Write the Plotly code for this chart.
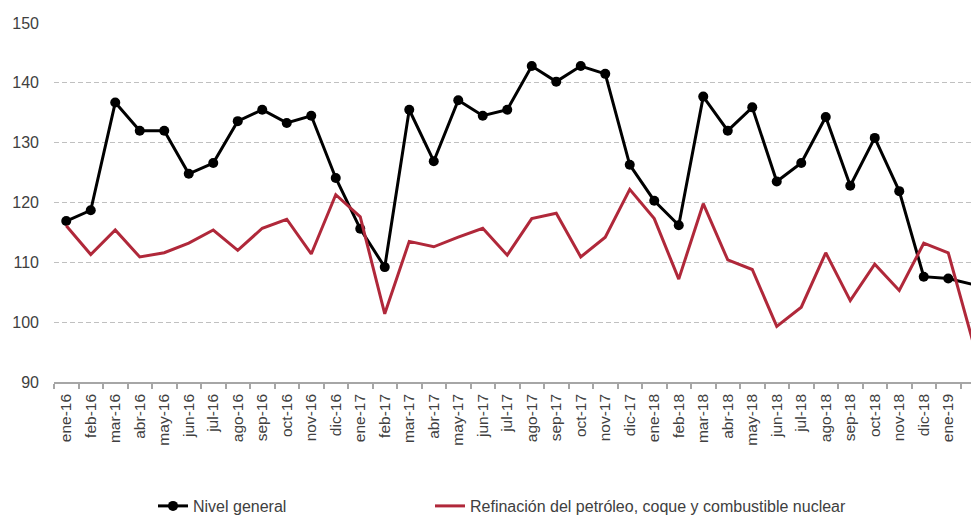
import plotly.graph_objects as go

meses = ["ene-16", "feb-16", "mar-16", "abr-16", "may-16", "jun-16", "jul-16", "ago-16",
         "sep-16", "oct-16", "nov-16", "dic-16", "ene-17", "feb-17", "mar-17", "abr-17",
         "may-17", "jun-17", "jul-17", "ago-17", "sep-17", "oct-17", "nov-17", "dic-17",
         "ene-18", "feb-18", "mar-18", "abr-18", "may-18", "jun-18", "jul-18", "ago-18",
         "sep-18", "oct-18", "nov-18", "dic-18", "ene-19", "feb-19"]

nivel_general = [116.9, 118.7, 136.7, 132.0, 132.0, 124.8, 126.6, 133.6,
                 135.5, 133.3, 134.5, 124.1, 115.6, 109.2, 135.5, 126.9,
                 137.1, 134.5, 135.5, 142.8, 140.2, 142.8, 141.5, 126.3,
                 120.3, 116.2, 137.7, 132.0, 135.9, 123.5, 126.6, 134.3,
                 122.8, 130.8, 121.9, 107.6, 107.3, 106.3]

refinacion = [116.1, 111.3, 115.4, 110.9, 111.6, 113.2, 115.4, 112.0,
              115.7, 117.2, 111.4, 121.3, 117.6, 101.4, 113.5, 112.6,
              114.2, 115.7, 111.2, 117.3, 118.2, 110.9, 114.2, 122.2,
              117.3, 107.2, 119.8, 110.4, 108.8, 99.3, 102.5, 111.6,
              103.6, 109.7, 105.3, 113.2, 111.6, 96.8]

y_ticks = [90, 100, 110, 120, 130, 140, 150]

FONT = "Liberation Sans"
TXT = "#404040"

W, H = 971, 515
ML, MT = 54, 23
PLOT_W = W - ML
PLOT_H = 359.2

fig = go.Figure()
fig.add_trace(go.Scatter(
    x=meses, y=nivel_general, name="Nivel general", mode="lines+markers",
    line=dict(color="#000000", width=3),
    marker=dict(color="#000000", size=10),
    cliponaxis=False, legend="legend",
))
fig.add_trace(go.Scatter(
    x=meses, y=refinacion, name="Refinación del petróleo, coque y combustible nuclear",
    mode="lines",
    line=dict(color="#B0283A", width=3),
    cliponaxis=False, legend="legend2",
))

leg_common = dict(orientation="h", yref="container", y=1 - 506 / H, yanchor="middle",
                  xanchor="left", font=dict(family=FONT, size=16, color=TXT),
                  bgcolor="rgba(0,0,0,0)")

fig.update_layout(
    width=W, height=H,
    margin=dict(l=ML, r=0, t=MT, b=H - MT - PLOT_H),
    paper_bgcolor="white", plot_bgcolor="white",
    font=dict(family=FONT, color=TXT, size=16),
    showlegend=True,
    legend=dict(x=(153 - ML) / PLOT_W, **leg_common),
    legend2=dict(x=(430 - ML) / PLOT_W, **leg_common),
    xaxis=dict(type="category", categoryorder="array", categoryarray=meses,
               range=[-0.5, -0.5 + PLOT_W / 24.5],
               tickangle=-90, tickson="boundaries", ticks="outside", ticklen=5,
               tickcolor="#A6A6A6", tickwidth=1.5,
               showline=True, linecolor="#A6A6A6", linewidth=1.5,
               showgrid=False, tickfont=dict(size=15.5, color=TXT),
               ticklabelstandoff=4, zeroline=False),
    yaxis=dict(range=[90, 150], tickvals=y_ticks, showgrid=True,
               gridcolor="#C0C0C0", gridwidth=1.3, griddash="5px,3px",
               showline=False, ticks="", zeroline=False,
               tickfont=dict(size=16, color=TXT), ticklabelstandoff=14),
)

fig.write_html(
    "out.html",
    config={"displayModeBar": False},
    post_script="document.body.style.margin='0';document.body.style.overflow='hidden';",
)
